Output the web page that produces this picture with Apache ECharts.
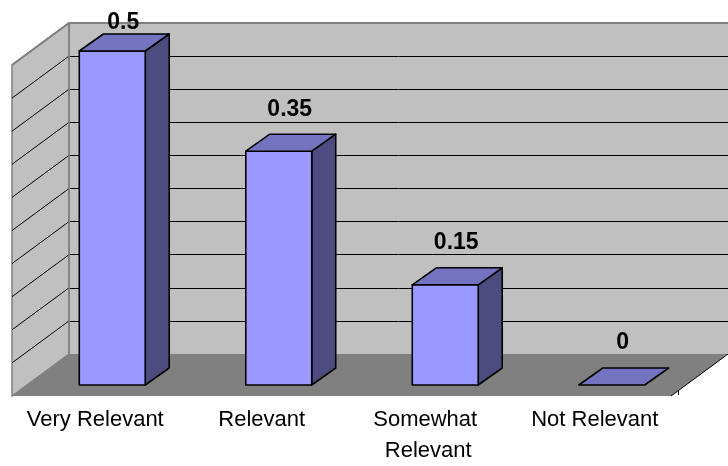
<!DOCTYPE html>
<html>
<head>
<meta charset="utf-8">
<script src="https://cdn.jsdelivr.net/npm/echarts@6/dist/echarts.min.js"></script>
<style>
  html, body { margin: 0; padding: 0; background: #ffffff; }
  #chart { width: 728px; height: 466px; }
</style>
</head>
<body>
<div id="chart"></div>
<script>
// Survey answers and their shares
const categories = ['Very Relevant', 'Relevant', 'Somewhat Relevant', 'Not Relevant'];
const shares = [0.5, 0.35, 0.15, 0];

// Value axis range
const axisMin = 0;
const axisMax = 0.5;
const axisStep = 0.05;

// Depth offsets used to fake the 3D look
const WALL_DEPTH = [-57, 42];   // back wall -> front edge of floor
const BAR_DEPTH = [24, -17];    // bar front face -> bar back face

const chart = echarts.init(document.getElementById('chart'), null, { renderer: 'canvas' });

// Floor, side wall and wall outlines, drawn in the back-wall grid
function renderWalls(params, api) {
  const cs = params.coordSys;
  const x0 = cs.x, x1 = cs.x + cs.width;
  const yt = cs.y, yb = cs.y + cs.height;
  const dx = WALL_DEPTH[0], dy = WALL_DEPTH[1];
  const children = [];
  // floor
  children.push({
    type: 'polygon',
    shape: { points: [[x0, yb], [x1, yb], [x1 + dx, yb + dy], [x0 + dx, yb + dy]] },
    style: { fill: '#808080', stroke: null }
  });
  // side wall
  children.push({
    type: 'polygon',
    shape: { points: [[x0, yt], [x0, yb], [x0 + dx, yb + dy], [x0 + dx, yt + dy]] },
    style: { fill: '#C0C0C0', stroke: '#808080', lineWidth: 1.5 }
  });
  // side wall grid lines
  for (let v = axisMin + axisStep; v < axisMax - 1e-9; v += axisStep) {
    const y = api.coord([0, v])[1];
    children.push({
      type: 'line',
      shape: { x1: x0, y1: y, x2: x0 + dx, y2: y + dy },
      style: { stroke: '#000000', lineWidth: 1 }
    });
  }
  // back wall top and left edges
  children.push({
    type: 'polyline',
    shape: { points: [[x0 + dx, yt + dy], [x0, yt], [x1 + 10, yt]] },
    style: { stroke: '#808080', lineWidth: 2, fill: null }
  });
  children.push({
    type: 'line',
    shape: { x1: x0, y1: yt, x2: x0, y2: yb },
    style: { stroke: '#808080', lineWidth: 1.5 }
  });
  // right edge of the floor
  children.push({
    type: 'line',
    shape: { x1: x1, y1: yb, x2: x1 + dx, y2: yb + dy },
    style: { stroke: '#000000', lineWidth: 1 }
  });
  return { type: 'group', children: children };
}

// 3D-looking column: front face, top face, side face and value label
function renderBar(params, api) {
  const idx = api.value(0);
  const val = api.value(1);
  const top = api.coord([idx, val]);
  const base = api.coord([idx, axisMin]);
  const bw = api.size([1, 0])[0] * 0.396;
  const l = top[0] - bw / 2, r = top[0] + bw / 2;
  const yTop = top[1], yBot = base[1];
  const dx = BAR_DEPTH[0], dy = BAR_DEPTH[1];
  const edge = { stroke: '#000000', lineWidth: 1.6, lineJoin: 'round' };
  const children = [];
  if (yBot - yTop > 0.5) {
    children.push({
      type: 'polygon',
      shape: { points: [[r, yTop], [r + dx, yTop + dy], [r + dx, yBot + dy], [r, yBot]] },
      style: Object.assign({ fill: '#4C4C80' }, edge)
    });
    children.push({
      type: 'rect',
      shape: { x: l, y: yTop, width: bw, height: yBot - yTop },
      style: Object.assign({ fill: '#9999FF' }, edge)
    });
  }
  children.push({
    type: 'polygon',
    shape: { points: [[l, yTop], [l + dx, yTop + dy], [r + dx, yTop + dy], [r, yTop]] },
    style: Object.assign({ fill: '#7373BF' }, edge)
  });
  children.push({
    type: 'text',
    x: top[0] + dx / 2 - 1,
    y: Math.max(yTop + dy - 25, 23),
    style: {
      text: String(val),
      font: 'bold 23px "Liberation Sans", Arial, sans-serif',
      fill: '#000000',
      align: 'center',
      verticalAlign: 'middle'
    }
  });
  return { type: 'group', children: children };
}

const option = {
  backgroundColor: '#ffffff',
  animation: false,
  grid: [
    // back wall
    { left: 69, top: 23, width: 666, height: 331, show: true, backgroundColor: '#C0C0C0', borderWidth: 0 },
    // front edge of the floor, carries the category labels
    { left: 12, top: 65, width: 666, height: 331 },
    // plane of the column front faces
    { left: 29, top: 51, width: 666, height: 334 }
  ],
  xAxis: [
    { gridIndex: 0, type: 'category', data: categories, show: false },
    {
      gridIndex: 1, type: 'category', data: categories,
      axisLine: { show: true, lineStyle: { color: '#000000', width: 1 } },
      axisTick: { show: true, length: 6, lineStyle: { color: '#000000' } },
      axisLabel: {
        interval: 0, margin: 15, color: '#000000',
        fontFamily: '"Liberation Sans", Arial, sans-serif', fontSize: 22,
        lineHeight: 31, width: 166, overflow: 'break'
      },
      splitLine: { show: false }
    },
    { gridIndex: 2, type: 'category', data: categories, show: false }
  ],
  yAxis: [
    {
      gridIndex: 0, type: 'value', min: axisMin, max: axisMax, interval: axisStep,
      axisLine: { show: false }, axisTick: { show: false }, axisLabel: { show: false },
      splitLine: { show: true, lineStyle: { color: '#000000', width: 1 } }
    },
    { gridIndex: 1, type: 'value', min: axisMin, max: axisMax, show: false, splitLine: { show: false } },
    { gridIndex: 2, type: 'value', min: axisMin, max: axisMax, show: false, splitLine: { show: false } }
  ],
  series: [
    {
      type: 'custom', name: 'walls', xAxisIndex: 0, yAxisIndex: 0,
      renderItem: renderWalls, data: [[0, 0]], z: 1, silent: true, clip: false
    },
    {
      type: 'custom', name: 'share', xAxisIndex: 2, yAxisIndex: 2,
      renderItem: renderBar,
      data: shares.map((v, i) => [i, v]),
      z: 5, clip: false
    }
  ]
};

chart.setOption(option);
</script>
</body>
</html>
